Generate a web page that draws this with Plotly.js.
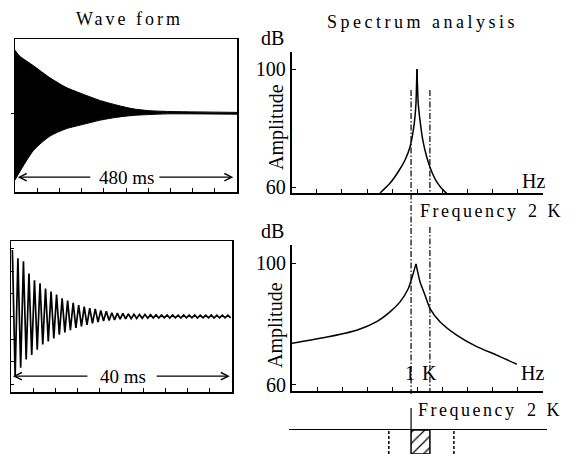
<!DOCTYPE html>
<html><head><meta charset="utf-8">
<script src="https://cdn.plot.ly/plotly-3.0.1.min.js"></script>
<style>html,body{margin:0;padding:0;background:#fff;} #chart{width:578px;height:454px;}</style>
</head><body><div id="chart"></div>
<script>
// ---- Wave form (480 ms): envelope of the decaying signal ----
const waveA_t     = [0, 10, 40, 75, 110, 150, 185, 220, 255, 290, 330, 480];
const waveA_upper = [0.85, 0.77, 0.64, 0.48, 0.35, 0.25, 0.17, 0.11, 0.06, 0.035, 0.025, 0.012];
const waveA_lower = [-0.90, -0.79, -0.50, -0.31, -0.21, -0.146, -0.092, -0.054, -0.029, -0.017, -0.008, -0.012];

// ---- Wave form (40 ms): positive and negative peak of each 1 ms cycle ----
const waveB_top = [0.88, 0.77, 0.73, 0.57, 0.48, 0.44, 0.37, 0.33, 0.29, 0.24, 0.21, 0.18, 0.15, 0.13, 0.11, 0.10, 0.08, 0.07, 0.05, 0.045,
                   0.04, 0.035, 0.03, 0.028, 0.026, 0.024, 0.022, 0.02, 0.02, 0.02, 0.018, 0.02, 0.018, 0.02, 0.018, 0.018, 0.02, 0.018, 0.018, 0.018];
const waveB_bot = [-0.79, -0.68, -0.57, -0.51, -0.44, -0.37, -0.33, -0.29, -0.24, -0.21, -0.18, -0.15, -0.13, -0.11, -0.09, -0.075, -0.06, -0.053, -0.044, -0.035,
                   -0.03, -0.028, -0.026, -0.024, -0.022, -0.02, -0.02, -0.018, -0.02, -0.018, -0.02, -0.018, -0.018, -0.02, -0.018, -0.018, -0.02, -0.018, -0.018, -0.018];
const waveB_period = 1; // ms

// ---- Spectrum analysis (Hz, dB) ----
const specTopHz = [703, 782, 848, 902, 942, 968, 981, 989, 997, 1007, 1021, 1043, 1074, 1109, 1154, 1220, 1234];
const specTopDb = [58.0, 61.3, 65.2, 69.2, 73.7, 79.3, 83.8, 88.4, 100, 88.4, 82.7, 76.0, 70.3, 65.8, 61.8, 58.4, 58.0];
const specBotHz = [0, 249, 516, 675, 781, 861, 927, 962, 988, 1020, 1060, 1100, 1179, 1312, 1472, 1631, 1791];
const specBotDb = [73.7, 75.5, 78.0, 80.8, 84.0, 87.3, 91.7, 96.1, 99.8, 93.9, 89.5, 85.1, 80.8, 76.4, 72.6, 69.8, 66.8];

const dbTicks = [60, 100];
const markerHz = [950, 1100];     // dash-dot frequency markers
const passBand = [950, 1100];     // hatched band
const outerBand = [773, 1291];    // dashed band edges

// ---- helpers ----
const W = 578, H = 454;
const px = v => v / W;
const py = v => 1 - v / H;
const FONT = 'Liberation Serif, Times New Roman, serif';
const sp = (t, s) => '<span style="letter-spacing:' + s + 'px">' + t + '</span>';

function branches(xs, ys) {
  const i = ys.indexOf(Math.max(...ys));
  return [[xs.slice(0, i + 1), ys.slice(0, i + 1)], [xs.slice(i), ys.slice(i)]];
}

const bx = [], by = [];
for (let k = 0; k < waveB_top.length; k++) {
  bx.push(k * waveB_period + 0.25 * waveB_period); by.push(waveB_top[k]);
  bx.push(k * waveB_period + 0.75 * waveB_period); by.push(waveB_bot[k]);
}

const traces = [
  {x: waveA_t, y: waveA_upper, xaxis: 'x', yaxis: 'y', mode: 'lines', line: {color: 'black', width: 1, shape: 'spline', smoothing: 0.7}},
  {x: waveA_t, y: waveA_lower, xaxis: 'x', yaxis: 'y', mode: 'lines', fill: 'tonexty', fillcolor: 'black', line: {color: 'black', width: 1, shape: 'spline', smoothing: 0.7}},
  {x: bx, y: by, xaxis: 'x2', yaxis: 'y2', mode: 'lines', line: {color: 'black', width: 1.7}},
];
for (const [xs, ys] of branches(specTopHz, specTopDb))
  traces.push({x: xs, y: ys, xaxis: 'x3', yaxis: 'y3', mode: 'lines', line: {color: 'black', width: 1.5, shape: 'spline', smoothing: 0.6}});
for (const [xs, ys] of branches(specBotHz, specBotDb))
  traces.push({x: xs, y: ys, xaxis: 'x4', yaxis: 'y4', mode: 'lines', line: {color: 'black', width: 1.5, shape: 'spline', smoothing: 0.6}});
traces.push({type: 'bar', x: [(passBand[0] + passBand[1]) / 2], y: [1], width: [passBand[1] - passBand[0]],
  xaxis: 'x5', yaxis: 'y5',
  marker: {color: 'white', line: {color: 'black', width: 1.5},
           pattern: {shape: '/', fgcolor: 'black', bgcolor: 'white', size: 8, solidity: 0.15}}});

const boxAxis = (extra) => Object.assign({showline: true, mirror: true, linecolor: 'black', linewidth: 1.5,
  showgrid: false, zeroline: false, showticklabels: false, ticks: 'inside', ticklen: 4, tickwidth: 1, tickcolor: 'black', fixedrange: true}, extra);
const specX = (extra) => Object.assign({range: [0, 2000], showline: true, linecolor: 'black', linewidth: 2,
  showgrid: false, zeroline: false, showticklabels: false, ticks: 'inside', tick0: 0, dtick: 200, ticklen: 4, tickwidth: 1, tickcolor: 'black'}, extra);
const specY = (extra) => Object.assign({showline: true, linecolor: 'black', linewidth: 2, showgrid: false, zeroline: false,
  ticks: 'inside', tickvals: dbTicks, ticktext: dbTicks.map(String), ticklen: 4, tickcolor: 'black',
  tickfont: {family: FONT, size: 20, color: 'black'}}, extra);

const dashdot = '6px,2px,1.5px,2px';
const shapes = [
  {type: 'line', xref: 'x3', yref: 'paper', x0: markerHz[0], x1: markerHz[0], y0: py(90), y1: py(394), line: {color: 'black', width: 1.2, dash: dashdot}},
  {type: 'line', xref: 'x3', yref: 'paper', x0: markerHz[1], x1: markerHz[1], y0: py(90), y1: py(193), line: {color: 'black', width: 1.2, dash: dashdot}},
  {type: 'line', xref: 'x3', yref: 'paper', x0: markerHz[1], x1: markerHz[1], y0: py(227), y1: py(392), line: {color: 'black', width: 1.2, dash: dashdot}},
  {type: 'line', xref: 'x3', yref: 'paper', x0: passBand[0], x1: passBand[0], y0: py(408), y1: py(430), line: {color: 'black', width: 1.2}},
  {type: 'line', xref: 'x5', yref: 'y5', x0: outerBand[0], x1: outerBand[0], y0: 0, y1: 1, line: {color: 'black', width: 1.5, dash: '3px,2px'}},
  {type: 'line', xref: 'x5', yref: 'y5', x0: outerBand[1], x1: outerBand[1], y0: 0, y1: 1, line: {color: 'black', width: 1.5, dash: '3px,2px'}},
];

const txt = (text, x, y, size, extra) => Object.assign({text, x, y, xref: 'paper', yref: 'paper', showarrow: false,
  xanchor: 'center', yanchor: 'middle', font: {family: FONT, size, color: 'black'}}, extra || {});
const arrow = (xr, yr, tipX, tailX, yv) => ({xref: xr, yref: yr, axref: xr, ayref: yr, x: tipX, y: yv, ax: tailX, ay: yv,
  text: '', showarrow: true, arrowhead: 5, arrowsize: 1.2, arrowwidth: 1.2, arrowcolor: 'black', standoff: 0, startstandoff: 0});

const annotations = [
  txt(sp('Wave form', 3), px(129), py(19), 18),
  txt(sp('Spectrum analysis', 3.5), px(422), py(22), 18),
  txt('dB', px(272), py(38), 20),
  txt('dB', px(272), py(231), 20),
  txt('Amplitude', px(276), py(127), 20, {textangle: -90}),
  txt('Amplitude', px(275), py(325), 20, {textangle: -90}),
  txt('Hz', px(533), py(181), 20),
  txt('Hz', px(532), py(373), 20),
  txt(sp('1 K', 1), px(421), py(373), 20),
  txt(sp('Frequency', 2.5), px(418), py(211), 18, {xanchor: 'left'}),
  txt(sp('2 K', 3), px(566), py(211), 18, {xanchor: 'right'}),
  txt(sp('Frequency', 2.5), px(416), py(410), 18, {xanchor: 'left'}),
  txt(sp('2 K', 3), px(565), py(410), 18, {xanchor: 'right'}),
  {xref: 'x', yref: 'y', x: 242, y: -0.86, text: '480 ms', showarrow: false, font: {family: FONT, size: 19, color: 'black'}},
  arrow('x', 'y', 6, 166, -0.86),
  arrow('x', 'y', 472, 309, -0.86),
  {xref: 'x2', yref: 'y2', x: 20.3, y: -0.79, text: '40 ms', showarrow: false, font: {family: FONT, size: 19, color: 'black'}},
  arrow('x2', 'y2', 0.35, 14.1, -0.79),
  arrow('x2', 'y2', 39.6, 26.1, -0.79),
];

const layout = {
  width: W, height: H, margin: {l: 0, r: 0, t: 0, b: 0}, showlegend: false,
  paper_bgcolor: 'white', plot_bgcolor: 'white', font: {family: FONT, color: 'black'},
  xaxis:  boxAxis({domain: [px(15), px(237)], range: [0, 480], tick0: 0, dtick: 48, anchor: 'y'}),
  yaxis:  boxAxis({domain: [py(192), py(39)], range: [-1.06, 1], ticks: 'outside', ticklen: 3, tickvals: [0], anchor: 'x'}),
  xaxis2: boxAxis({domain: [px(11), px(232)], range: [0, 40], tick0: 0, dtick: 4, anchor: 'y2'}),
  yaxis2: boxAxis({domain: [py(392), py(241)], range: [-1, 1], tick0: 0, dtick: 0.3, ticklen: 3, anchor: 'x2'}),
  xaxis3: specX({domain: [px(291.7), px(543)], anchor: 'y3'}),
  yaxis3: specY({domain: [py(193), py(52)], range: [58, 105.8], anchor: 'x3'}),
  xaxis4: specX({domain: [px(292), px(543)], anchor: 'y4'}),
  yaxis4: specY({domain: [py(391), py(245)], range: [58, 106], anchor: 'x4'}),
  xaxis5: {domain: [px(289), px(547)], range: [-21.5, 2032], anchor: 'y5', side: 'top', showline: true, linecolor: 'black', linewidth: 1.5,
           showgrid: false, zeroline: false, showticklabels: false, ticks: ''},
  yaxis5: {domain: [0, py(430)], range: [0, 1], anchor: 'x5', visible: false},
  shapes, annotations,
};

Plotly.newPlot('chart', traces, layout, {staticPlot: true, displayModeBar: false});
</script></body></html>
